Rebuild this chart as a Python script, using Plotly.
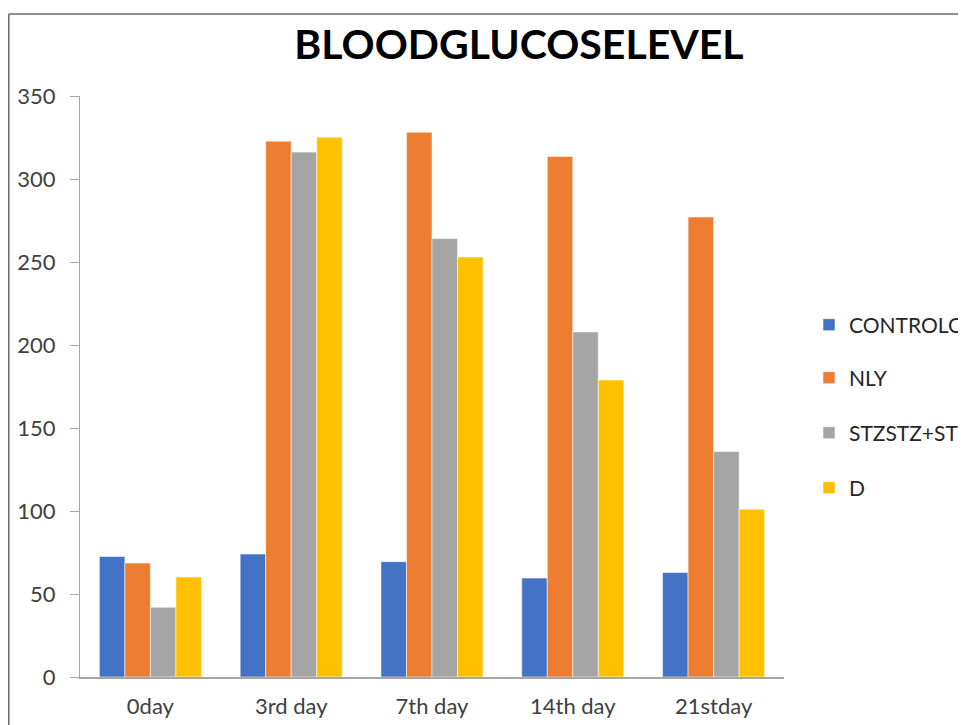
import plotly.graph_objects as go

categories = ["0day", "3rd day", "7th day", "14th day", "21stday"]
control = [72.6, 74.1, 69.5, 59.6, 63.0]
nly = [68.7, 322.8, 328.2, 313.6, 277.1]
stz = [42.0, 316.2, 264.1, 207.9, 135.8]
d = [60.3, 325.2, 253.0, 178.9, 101.1]
series_names = ["CONTROLO", "NLY", "STZSTZ+ST", "D"]
colors = ["#4472C4", "#ED7D31", "#A5A5A5", "#FFC000"]
y_ticks = [0, 50, 100, 150, 200, 250, 300, 350]

# page body has an 8px margin: work in figure pixels = window pixels - 8
OFF = 8
W, H = 966 - OFF, 725 - OFF
ml = 80 - OFF
plot_right = 784 - OFF
plot_top = 95.5 - OFF
plot_bottom = 677.5 - OFF
mr = W - plot_right
mt = plot_top
mb = H - plot_bottom
pw = W - ml - mr
ph = H - mt - mb

def px2paper_x(px):
    return (px - ml) / pw

def px2paper_y(py):
    return (H - mb - py) / ph

legend_ids = ["legend", "legend2", "legend3", "legend4"]
legend_ypx = [325 - OFF, 378 - OFF, 433 - OFF, 488 - OFF]

fig = go.Figure()
for name, vals, col, lid in zip(series_names, [control, nly, stz, d], colors, legend_ids):
    fig.add_trace(go.Bar(
        x=categories, y=vals, name=name, legend=lid,
        marker=dict(color=col, line=dict(width=1, color="rgba(255,255,255,0.55)")),
    ))

border_col = "#6b6b6b"
bx = 0.75
by = 13.3 - OFF
shapes = [
    dict(type="line", xref="paper", yref="paper",
         x0=px2paper_x(bx), x1=px2paper_x(bx), y0=px2paper_y(by), y1=px2paper_y(H + 20),
         line=dict(color=border_col, width=1.5)),
    dict(type="line", xref="paper", yref="paper",
         x0=px2paper_x(bx), x1=px2paper_x(W + 20), y0=px2paper_y(by), y1=px2paper_y(by),
         line=dict(color=border_col, width=1.5)),
]

legend_common = dict(xref="container", yref="container", x=801 / W, xanchor="left",
                     yanchor="middle", font=dict(size=21, color="#262626"),
                     bgcolor="rgba(0,0,0,0)")
legend_layout = {}
for lid, ypx in zip(legend_ids, legend_ypx):
    legend_layout[lid] = dict(legend_common, y=1 - ypx / H)

fig.update_layout(
    width=W, height=H,
    margin=dict(l=ml, r=mr, t=mt, b=mb, pad=0, autoexpand=False),
    paper_bgcolor="white", plot_bgcolor="white",
    barmode="group", bargap=0.275, bargroupgap=0,
    title=dict(text="<b>BLOODGLUCOSELEVEL</b>", x=px2paper_x(519 - OFF), xref="paper", xanchor="center",
               y=1 - (45 - OFF) / H, yanchor="middle",
               font=dict(family="Lato, Open Sans, sans-serif", size=41, color="black")),
    font=dict(family="Lato, Open Sans, sans-serif", color="#404040"),
    showlegend=True,
    shapes=shapes,
    **legend_layout,
)
fig.update_yaxes(range=[0, 350], tickvals=y_ticks, showgrid=False, zeroline=False,
                 showline=True, linecolor="#a6a6a6", linewidth=1.2,
                 ticks="outside", ticklen=9, tickcolor="#a6a6a6", tickwidth=1.2,
                 ticklabelstandoff=10,
                 tickfont=dict(size=22, color="#404040"))
fig.update_xaxes(showgrid=False, zeroline=False, showline=True, linecolor="#a6a6a6", linewidth=2,
                 ticks="", ticklabelstandoff=9, tickfont=dict(size=22, color="#404040"))

fig.write_html("out.html")
